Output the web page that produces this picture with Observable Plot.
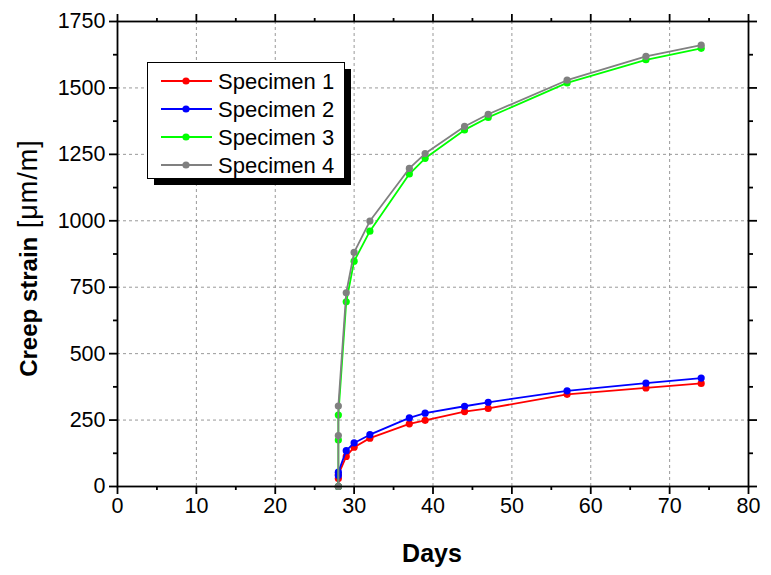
<!DOCTYPE html>
<html><head><meta charset="utf-8">
<script src="https://cdn.jsdelivr.net/npm/d3@7"></script>
<script src="https://cdn.jsdelivr.net/npm/@observablehq/plot@0.6"></script>
<style>body{margin:0;background:#fff} svg{font-family:Arial,"Liberation Sans",sans-serif}</style>
</head><body><div id="chart"></div>
<script>
const days = [28, 28, 28, 29, 30, 32, 37, 39, 44, 47, 57, 67, 74];
const seriesNames = ["Specimen 1", "Specimen 2", "Specimen 3", "Specimen 4"];
const s1 = [0, 30, 45, 113, 148, 182, 236, 249, 282, 294, 347, 371, 388];
const s2 = [0, 41, 54, 135, 164, 195, 258, 276, 302, 317, 360, 389, 408];
const s3 = [0, 175, 269, 695, 848, 961, 1176, 1235, 1342, 1389, 1519, 1606, 1649];
const s4 = [0, 192, 303, 729, 881, 999, 1197, 1253, 1355, 1401, 1529, 1619, 1661];
const colors = ["#ff0000", "#0000ff", "#00ff00", "#808080"];
const xTicks = [0, 10, 20, 30, 40, 50, 60, 70, 80];
const xMinor = [5, 15, 25, 35, 45, 55, 65, 75];
const yTicks = [0, 250, 500, 750, 1000, 1250, 1500, 1750];
const yMinor = [125, 375, 625, 875, 1125, 1375, 1625];
const xLabel = "Days";
const yLabelBold = "Creep strain";
const yLabelUnit = " [\u03bcm/m]";

const allSeries = [s1, s2, s3, s4];
const data = [];
allSeries.forEach((vals, i) => vals.forEach((v, j) => data.push({series: seriesNames[i], day: days[j], strain: v})));

const gridStyle = {stroke: "#999", strokeDasharray: "3,3", strokeWidth: 1};
const none = () => "";
const plain = d => String(d);
const seriesMarks = [];
seriesNames.forEach(name => {
  const d = data.filter(r => r.series === name);
  seriesMarks.push(Plot.line(d, {x: "day", y: "strain", stroke: "series", strokeWidth: 1.8}));
  seriesMarks.push(Plot.dot(d, {x: "day", y: "strain", fill: "series", r: 3.6}));
});

const plot = Plot.plot({
  width: 771, height: 575,
  marginLeft: 117, marginRight: 23, marginTop: 21, marginBottom: 89,
  style: {fontFamily: "Arial, 'Liberation Sans', sans-serif", fontSize: "21px", color: "black", background: "white"},
  x: {domain: [0, 80]},
  y: {domain: [0, 1750]},
  color: {domain: seriesNames, range: colors},
  marks: [
    Plot.ruleX(xTicks.slice(1, -1), gridStyle),
    Plot.ruleY(yTicks.slice(1, -1), gridStyle),
    ...seriesMarks,
    Plot.frame({stroke: "black", strokeWidth: 1.8}),
    Plot.axisX(xTicks, {tickSize: 8, tickPadding: 3, tickFormat: plain, label: null, strokeWidth: 1.8, fontSize: 21.5}),
    Plot.axisX(xMinor, {tickSize: 4, tickFormat: none, label: null, strokeWidth: 1.8}),
    Plot.axisX(xTicks, {anchor: "top", tickSize: 8, tickFormat: none, label: null, strokeWidth: 1.8}),
    Plot.axisX(xMinor, {anchor: "top", tickSize: 4, tickFormat: none, label: null, strokeWidth: 1.8}),
    Plot.axisY(yTicks, {tickSize: 8, tickPadding: 4, tickFormat: plain, label: null, strokeWidth: 1.8, fontSize: 21.5}),
    Plot.axisY(yMinor, {tickSize: 4, tickFormat: none, label: null, strokeWidth: 1.8}),
    Plot.axisY(yTicks, {anchor: "right", tickSize: 8, tickFormat: none, label: null, strokeWidth: 1.8}),
    Plot.axisY(yMinor, {anchor: "right", tickSize: 4, tickFormat: none, label: null, strokeWidth: 1.8})
  ]
});
document.getElementById("chart").appendChild(plot);

const svg = d3.select(plot);
// axis titles
svg.append("text")
  .attr("x", 432).attr("y", 562)
  .attr("text-anchor", "middle")
  .attr("font-size", 25).attr("font-weight", "bold")
  .attr("fill", "black")
  .text(xLabel);
const yt = svg.append("text")
  .attr("transform", "translate(37,258) rotate(-90)")
  .attr("text-anchor", "middle")
  .attr("font-size", 24)
  .attr("fill", "black");
yt.append("tspan").attr("font-weight", "bold").text(yLabelBold);
yt.append("tspan").attr("font-weight", "normal").attr("font-size", 27).attr("letter-spacing", 1).text(yLabelUnit);

// legend
const lg = svg.append("g").attr("text-anchor", "start");
lg.append("rect").attr("x", 154).attr("y", 69).attr("width", 197).attr("height", 116).attr("fill", "black");
lg.append("rect").attr("x", 147.5).attr("y", 62.5).attr("width", 197).attr("height", 116)
  .attr("fill", "white").attr("stroke", "black").attr("stroke-width", 1);
seriesNames.forEach((name, i) => {
  const cy = 81 + i * 28;
  lg.append("line").attr("x1", 161).attr("x2", 212).attr("y1", cy).attr("y2", cy)
    .attr("stroke", colors[i]).attr("stroke-width", 1.8);
  lg.append("circle").attr("cx", 186).attr("cy", cy).attr("r", 3.6).attr("fill", colors[i]);
  lg.append("text").attr("x", 218).attr("y", cy + 8).attr("text-anchor", "start")
    .attr("font-size", 22).attr("fill", "black").text(name);
});
</script>
</body></html>
